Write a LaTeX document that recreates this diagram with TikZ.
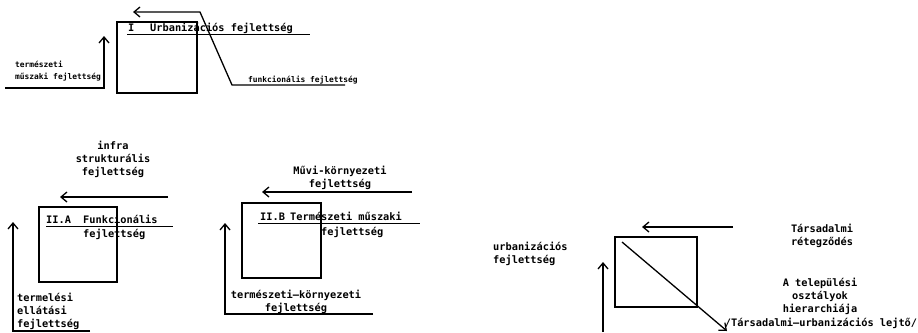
\documentclass[tikz,border=0pt]{standalone}
\usepackage{fontspec}
\setmonofont{DejaVu Sans Mono}
\usetikzlibrary{arrows.meta}

\begin{document}
\begin{tikzpicture}[x=1pt, y=-1pt,
  frame/.style={draw, line width=2.2pt, inner sep=0pt},
  flow/.style={line width=1.3pt, -{Straight Barb[length=6pt, width=10pt, line width=1.3pt]}},
  rule/.style={line width=1pt},
  txt/.style={font=\ttfamily\bfseries\fontsize{10.3}{13}\selectfont, inner sep=0pt},
  small/.style={font=\ttfamily\bfseries\fontsize{7.9}{11}\selectfont, inner sep=0pt}]

%─────────────
% Canvas
%─────────────
\useasboundingbox (0,0) rectangle (918,332);

%─────────────
% I  Urbanizációs fejlettség
%─────────────
\node[frame, minimum width=80pt, minimum height=71pt] (boxI) at (157,57.5) {};
\node[txt, anchor=base west] (numI) at (128,31) {I};
\node[txt, anchor=base west] (titleI) at (150,31) {Urbanizációs fejlettség};
\coordinate (ruleIa) at (127,34);
\coordinate (ruleIb) at (310,34);
\draw[rule] (ruleIa) -- (ruleIb);

% természeti műszaki fejlettség (from the left, then up)
\coordinate (termIa) at (5,88);
\coordinate (termIb) at (104,88);
\coordinate (termIc) at (104,36);
\draw[flow] (termIa) -- (termIb) -- (termIc);
\node[small, anchor=base west] (termIt) at (15,67) {természeti};
\node[small, anchor=base west] (muszIt) at (15,79) {műszaki fejlettség};

% funkcionális fejlettség (from the right, up the slope, back left)
\coordinate (funIa) at (345,85);
\coordinate (funIb) at (232,85);
\coordinate (funIc) at (200,12);
\coordinate (funId) at (133,12);
\draw[flow] (funIa) -- (funIb) -- (funIc) -- (funId);
\node[small, anchor=base west] (funIt) at (248,82) {funkcionális fejlettség};

%─────────────
% II.A  Funkcionális fejlettség
%─────────────
\node[frame, minimum width=78pt, minimum height=75pt] (boxIIA) at (78,244.5) {};
\node[txt, anchor=base west] (numIIA) at (46,223) {II.A};
\node[txt, anchor=base west] (titleIIA) at (83,223) {Funkcionális};
\node[txt, anchor=base west] (subIIA) at (83,237) {fejlettség};
\coordinate (ruleIIAa) at (46,226);
\coordinate (ruleIIAb) at (173,226);
\draw[rule] (ruleIIAa) -- (ruleIIAb);

% infra strukturális fejlettség
\coordinate (infAa) at (168,197);
\coordinate (infAb) at (60,197);
\draw[flow] (infAa) -- (infAb);
\node[txt, align=center, anchor=base] (infAt) at (113,175)
  {infra\\strukturális\\fejlettség};

% termelési ellátási fejlettség
\coordinate (prodAa) at (90,331);
\coordinate (prodAb) at (13,331);
\coordinate (prodAc) at (13,222);
\draw[flow] (prodAa) -- (prodAb) -- (prodAc);
\node[txt, align=left, anchor=base west] (prodAt) at (17,327)
  {termelési\\ellátási\\fejlettség};

%─────────────
% II.B  Természeti műszaki fejlettség
%─────────────
\node[frame, minimum width=79pt, minimum height=75pt] (boxIIB) at (281.5,240.5) {};
\node[txt, anchor=base west] (numIIB) at (260,220) {II.B};
\node[txt, anchor=base west] (titleIIB) at (290,220) {Természeti műszaki};
\node[txt, anchor=base west] (subIIB) at (321,235) {fejlettség};
\coordinate (ruleIIBa) at (258,223);
\coordinate (ruleIIBb) at (420,223);
\draw[rule] (ruleIIBa) -- (ruleIIBb);

% Művi-környezeti fejlettség
\coordinate (muvBa) at (412,192);
\coordinate (muvBb) at (262,192);
\draw[flow] (muvBa) -- (muvBb);
\node[txt, align=center, anchor=base] (muvBt) at (340,187)
  {Művi-környezeti\\fejlettség};

% természeti-környezeti fejlettség
\coordinate (envBa) at (373,314);
\coordinate (envBb) at (225,314);
\coordinate (envBc) at (225,223);
\draw[flow] (envBa) -- (envBb) -- (envBc);
\node[txt, align=center, anchor=base] (envBt) at (296,311)
  {természeti–környezeti\\fejlettség};

%─────────────
% III  Társadalmi-urbanizációs lejtő
%─────────────
\node[frame, minimum width=82pt, minimum height=70pt] (boxIII) at (656,272) {};
\coordinate (slopeA) at (622,242);
\coordinate (slopeB) at (727,331);
\draw[flow] (slopeA) -- (slopeB);

% Társadalmi rétegződés
\coordinate (socAa) at (733,227);
\coordinate (socAb) at (642,227);
\draw[flow] (socAa) -- (socAb);
\node[txt, align=center, anchor=base] (socAt) at (822,245)
  {Társadalmi\\rétegződés};

% urbanizációs fejlettség
\coordinate (urbAa) at (603,332);
\coordinate (urbAb) at (603,262);
\draw[flow] (urbAa) -- (urbAb);
\node[txt, align=left, anchor=base west] (urbAt) at (493,263)
  {urbanizációs\\fejlettség};

% hierarchy label
\node[txt, align=center, anchor=base] (hierAt) at (820,312)
  {A települési\\osztályok\\hierarchiája};
\node[txt, anchor=base] (hierBt) at (821,326)
  {/Társadalmi–urbanizációs lejtő/};

\end{tikzpicture}
\end{document}
